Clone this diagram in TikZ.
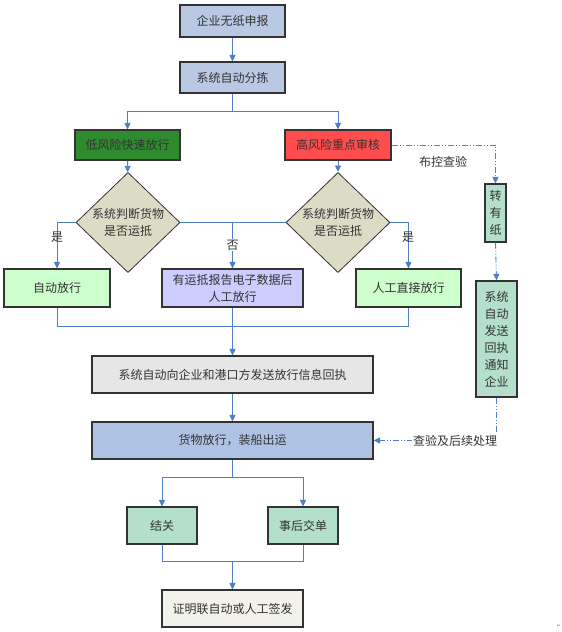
\documentclass[tikz,border=0pt]{standalone}
\usepackage{fontspec}
\newfontfamily\cjk{Noto Sans CJK SC}
\newfontfamily\dejavu{DejaVu Sans}
\usetikzlibrary{arrows.meta,shapes.geometric}
\definecolor{lineblue}{HTML}{4F7FC4}
\definecolor{txt}{HTML}{333333}
\definecolor{edge}{HTML}{333333}
\definecolor{fblue}{HTML}{B9C9E3}
\definecolor{fgreen}{HTML}{2E8B2E}
\definecolor{fred}{HTML}{FF4D4D}
\definecolor{fdiam}{HTML}{DCDCC6}
\definecolor{flgreen}{HTML}{CCFFCC}
\definecolor{fpurple}{HTML}{CCCCFF}
\definecolor{fmint}{HTML}{B3DFCB}
\definecolor{fgray}{HTML}{E6E6E6}
\definecolor{fship}{HTML}{AEC3E3}
\definecolor{fcert}{HTML}{F2F2EA}
\tikzset{
  box/.style={draw=edge, line width=1.1pt, inner sep=0pt, align=center,
    text=txt, font=\cjk\fontsize{12}{17}\selectfont},
  diam/.style={diamond, draw=edge, line width=0.8pt, inner sep=0pt, align=center,
    text=txt, font=\cjk\fontsize{12}{17}\selectfont, fill=fdiam,
    minimum width=104pt, minimum height=71pt},
  lbl/.style={inner sep=1pt, text=txt, font=\cjk\fontsize{12}{14}\selectfont},
  conn/.style={draw=lineblue, line width=0.9pt},
  arr/.style={conn, -{Triangle[width=6pt,length=6.5pt]}},
  dd/.style={dash pattern=on 6pt off 2pt on 1pt off 2pt on 1pt off 2pt},
}
\begin{document}
\begin{tikzpicture}[x=1pt,y=-1pt]
\useasboundingbox[fill=white] (0,0) rectangle (562,632);

\node[box, fill=fblue, minimum width=105pt, minimum height=32pt] (n1) at (232.5,21) {企业无纸申报};
\node[box, fill=fblue, minimum width=105pt, minimum height=31pt] (n2) at (232.5,77.5) {系统自动分拣};
\node[box, fill=fgreen, minimum width=105pt, minimum height=30pt] (low) at (127.5,145) {低风险快速放行};
\node[box, fill=fred, minimum width=106pt, minimum height=30pt] (high) at (338,145) {高风险重点审核};
\node[diam] (d1) at (128,222.5) {系统判断货物\\是否运抵};
\node[diam] (d2) at (338,222.5) {系统判断货物\\是否运抵};
\node[box, fill=flgreen, minimum width=106pt, minimum height=38pt] (auto) at (57,288) {自动放行};
\node[box, fill=fpurple, minimum width=141pt, minimum height=38pt] (manual) at (232.5,288) {有运抵报告电子数据后\\人工放行};
\node[box, fill=flgreen, minimum width=105pt, minimum height=38pt] (direct) at (408.5,288) {人工直接放行};
\node[box, fill=fmint, minimum width=21pt, minimum height=58pt, text width=21pt] (zhuan) at (495.5,213) {转\\有\\纸};
\node[box, fill=fmint, minimum width=41pt, minimum height=116pt, text width=41pt] (notify) at (496.5,339) {系统\\自动\\发送\\回执\\通知\\企业};
\node[box, fill=fgray, minimum width=281pt, minimum height=37pt] (gray) at (232.5,374.5) {系统自动向企业和港口方发送放行信息回执};
\node[box, fill=fship, minimum width=281pt, minimum height=37pt] (ship) at (232.5,440.5) {货物放行，装船出运};
\node[box, fill=fmint, minimum width=70pt, minimum height=37pt] (jie) at (162,525.5) {结关};
\node[box, fill=fmint, minimum width=70pt, minimum height=37pt] (shi) at (303,525.5) {事后交单};
\node[box, fill=fcert, minimum width=141pt, minimum height=37pt] (cert) at (232.5,608.5) {证明联自动或人工签发};

% top
\draw[arr] (n1) -- (n2);
\coordinate (s1) at (232.5,111);
\draw[conn] (n2.south) -- (s1);
\draw[arr] (s1) -| (low.north);
\draw[arr] (s1) -| (high.north);
\draw[arr] (low) -- (d1);
\draw[arr] (high) -- (d2);

% diamonds
\draw[arr] (d1.west) -| (auto.north);
\node[lbl] (yes1) at (57,237) {是};
\draw[conn] (d1.east) -- (d2.west);
\coordinate (c1) at (manual.north |- d1.east);
\draw[arr] (c1) -- (manual.north);
\node[lbl, fill=white] (no1) at (232.5,245) {否};
\draw[arr] (d2.east) -| (direct.north);
\node[lbl] (yes2) at (408,237) {是};

% right dashed branch
\draw[arr, dd] (high.east) -| (zhuan.north);
\node[lbl] (bk) at (443,162) {布控查验};
\draw[arr, dd] (zhuan.south) -- (notify.north);
\draw[arr, dd] (notify.south) |- (ship.east);
\node[lbl, fill=white] (cy) at (455,440.5) {查验及后续处理};

% merge to gray
\coordinate (m1) at (232.5,326);
\draw[conn] (auto.south) |- (m1);
\draw[conn] (direct.south) |- (m1);
\draw[arr] (manual.south) -- (gray.north);
\draw[arr] (gray) -- (ship);

% bottom split
\coordinate (s2) at (232.5,477);
\draw[conn] (ship.south) -- (s2);
\draw[arr] (s2) -| (jie.north);
\draw[arr] (s2) -| (shi.north);
\coordinate (m2) at (232.5,561);
\draw[conn] (jie.south) |- (m2);
\draw[conn] (shi.south) |- (m2);
\draw[arr] (m2) -- (cert.north);

\node[inner sep=0pt, text=gray, font=\dejavu\fontsize{5}{5}\selectfont] (pm) at (559,626) {↵};
\end{tikzpicture}
\end{document}
